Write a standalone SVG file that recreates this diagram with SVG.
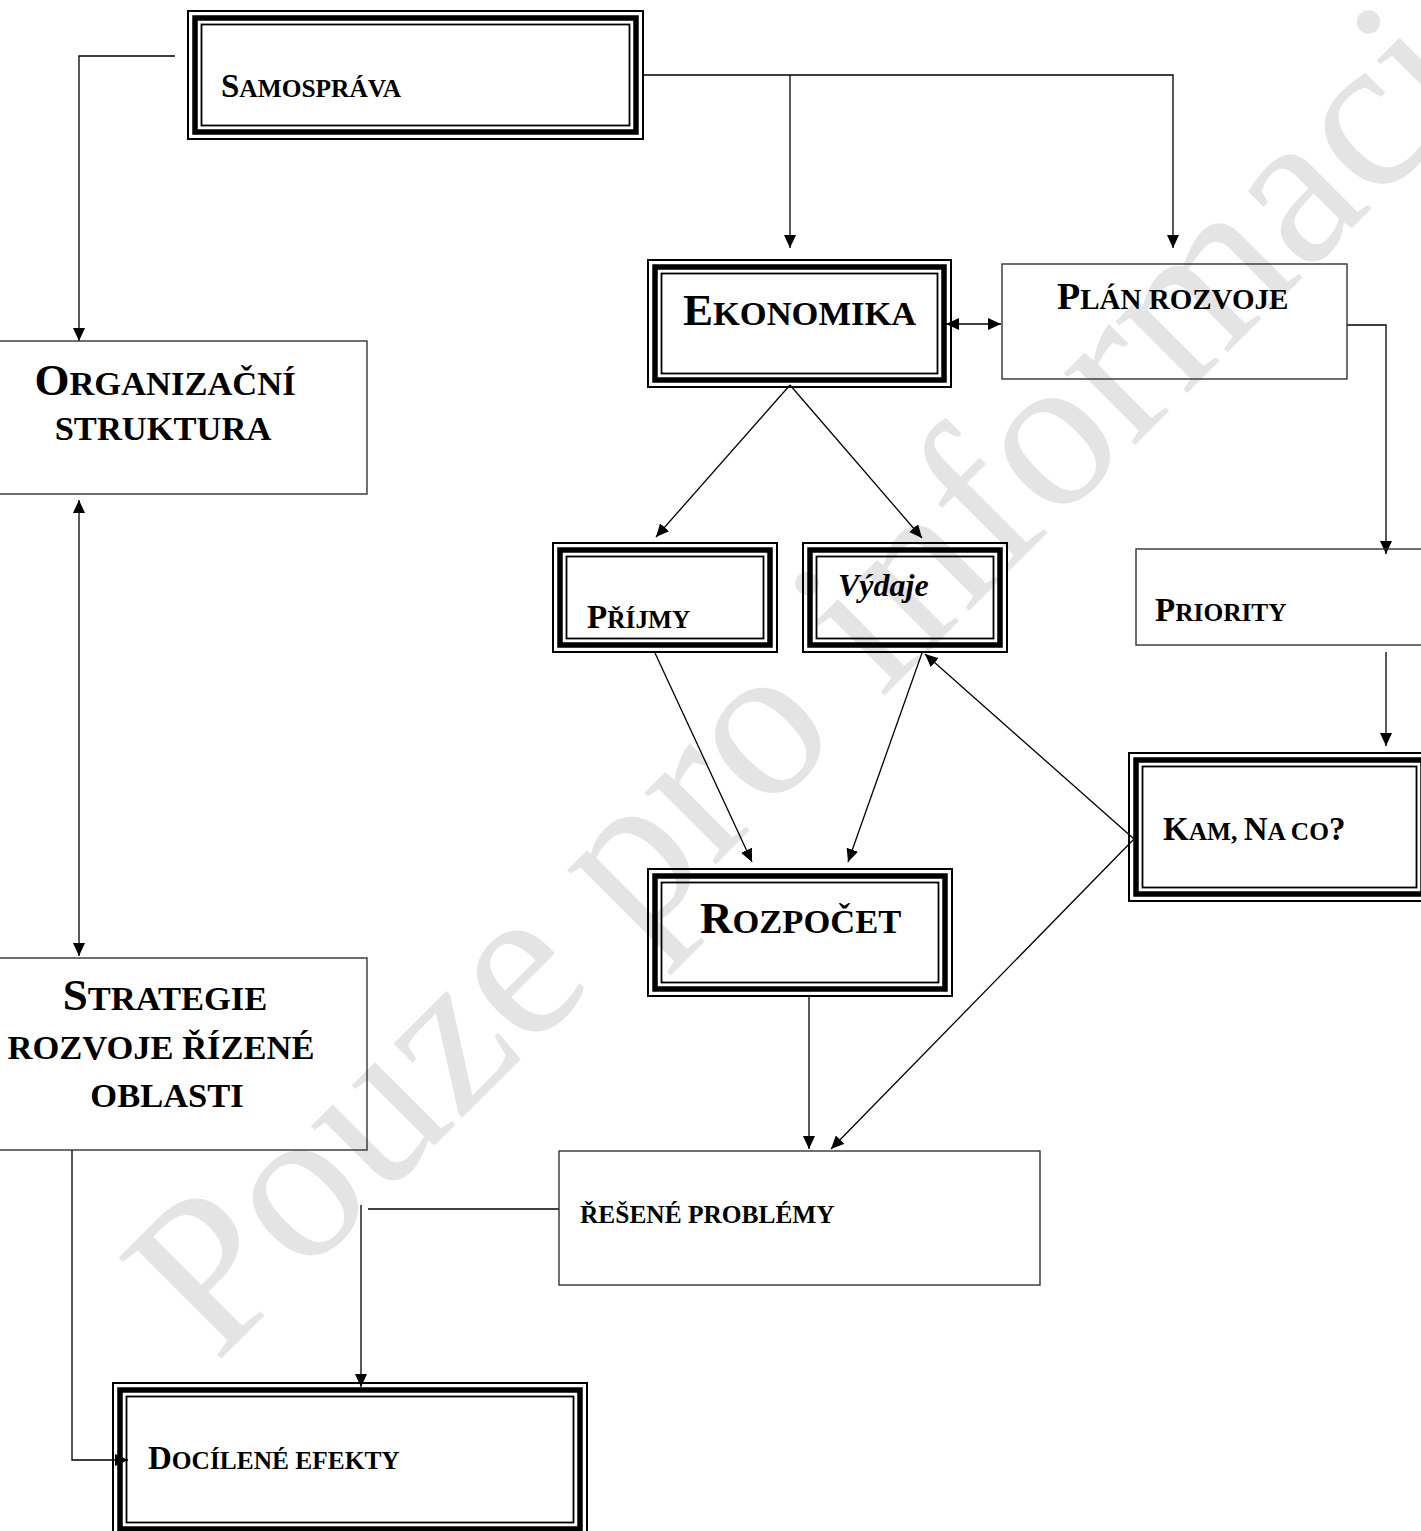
<svg xmlns="http://www.w3.org/2000/svg" width="1421" height="1531" viewBox="0 0 1421 1531">
<style>
text{font-family:"Liberation Serif","Times New Roman",serif;font-weight:bold;fill:#000}
.wm{font-weight:normal;fill:#e4e4e4;font-size:220px}
.thin{fill:none;stroke:#333;stroke-width:1.4}
.o{fill:none;stroke:#000;stroke-width:2}
.t{fill:none;stroke:#000;stroke-width:5.5}
.i{fill:none;stroke:#000;stroke-width:1.8}
.c{fill:none;stroke:#000;stroke-width:1.3}
.F45{font-size:45px}.f45{font-size:34.5px}
.F38{font-size:38px}.f38{font-size:29px}
.F33{font-size:33px}.f33{font-size:25.4px}
</style>
<defs>
<marker id="ah" viewBox="0 0 13 12" refX="13" refY="6" markerWidth="13" markerHeight="12" markerUnits="userSpaceOnUse" orient="auto-start-reverse">
<path d="M0,0 L13,6 L0,12 Z" fill="#000"/>
</marker>
</defs>
<rect width="1421" height="1531" fill="#fff"/>
<text class="wm" transform="translate(216,1364) rotate(-45)">Pouze pro informaci</text>

<g id="connectors">
<path class="c" d="M175,56 H79 V341" marker-end="url(#ah)"/>
<path class="c" d="M644,75 H1173 V248" marker-end="url(#ah)"/>
<path class="c" d="M790,75 V248" marker-end="url(#ah)"/>
<path class="c" d="M946,324 H1001" marker-start="url(#ah)" marker-end="url(#ah)"/>
<path class="c" d="M1347,325 H1386 V554" marker-end="url(#ah)"/>
<path class="c" d="M1386,652 V746" marker-end="url(#ah)"/>
<path class="c" d="M790,385 L656,537" marker-end="url(#ah)"/>
<path class="c" d="M790,385 L922,538" marker-end="url(#ah)"/>
<path class="c" d="M655,653 L752,862" marker-end="url(#ah)"/>
<path class="c" d="M922,653 L848,862" marker-end="url(#ah)"/>
<path class="c" d="M1134,839 L925,654" marker-end="url(#ah)"/>
<path class="c" d="M1134,839 L831,1149" marker-end="url(#ah)"/>
<path class="c" d="M809,997 V1149" marker-end="url(#ah)"/>
<path class="c" d="M559,1209 H368"/>
<path class="c" d="M361,1205 V1387" marker-end="url(#ah)"/>
<path class="c" d="M72,1150 V1460 H128" marker-end="url(#ah)"/>
<path class="c" d="M79,500 V956" marker-start="url(#ah)" marker-end="url(#ah)"/>
</g>

<g id="samosprava">
<rect class="o" x="188" y="11" width="455" height="128"/>
<rect class="t" x="195" y="18" width="441" height="114"/>
<rect class="i" x="201.5" y="24.5" width="428" height="101"/>
<text x="221" y="97"><tspan class="F33">S</tspan><tspan class="f33">AMOSPRÁVA</tspan></text>
</g>

<g id="organizacni">
<rect class="thin" x="-2" y="341" width="369" height="153"/>
<text x="165" y="395" text-anchor="middle"><tspan class="F45">O</tspan><tspan class="f45">RGANIZAČNÍ</tspan></text>
<text x="163" y="440" text-anchor="middle" class="f45">STRUKTURA</text>
</g>

<g id="ekonomika">
<rect class="o" x="648" y="260" width="303" height="127"/>
<rect class="t" x="655" y="267" width="289" height="113"/>
<rect class="i" x="661.5" y="273.5" width="276" height="100"/>
<text x="683" y="325"><tspan class="F45">E</tspan><tspan class="f45">KONOMIKA</tspan></text>
</g>

<g id="plan">
<rect class="thin" x="1002" y="264" width="345" height="115"/>
<text x="1057" y="309"><tspan class="F38">P</tspan><tspan class="f38">LÁN ROZVOJE</tspan></text>
</g>

<g id="prijmy">
<rect class="o" x="553" y="543" width="224" height="109"/>
<rect class="t" x="560" y="550" width="210" height="95"/>
<rect class="i" x="566.5" y="556.5" width="197" height="82"/>
<text x="587" y="628"><tspan class="F33">P</tspan><tspan class="f33">ŘÍJMY</tspan></text>
</g>

<g id="vydaje">
<rect class="o" x="803" y="543" width="204" height="109"/>
<rect class="t" x="810" y="550" width="190" height="95"/>
<rect class="i" x="816.5" y="556.5" width="177" height="82"/>
<text x="838" y="596" font-style="italic" font-size="32">Výdaje</text>
</g>

<g id="priority">
<rect class="thin" x="1136" y="549" width="300" height="96"/>
<text x="1155" y="621"><tspan class="F33">P</tspan><tspan class="f33">RIORITY</tspan></text>
</g>

<g id="kam">
<rect class="o" x="1129" y="753" width="301" height="148"/>
<rect class="t" x="1136" y="760" width="287" height="134"/>
<rect class="i" x="1142.5" y="766.5" width="274" height="121"/>
<text x="1163" y="840"><tspan class="F33">K</tspan><tspan class="f33">AM, </tspan><tspan class="F33">N</tspan><tspan class="f33">A CO</tspan><tspan class="F33">?</tspan></text>
</g>

<g id="rozpocet">
<rect class="o" x="648" y="869" width="304" height="127"/>
<rect class="t" x="655" y="876" width="290" height="113"/>
<rect class="i" x="661.5" y="882.5" width="277" height="100"/>
<text x="700" y="933"><tspan class="F45">R</tspan><tspan class="f45">OZPOČET</tspan></text>
</g>

<g id="strategie">
<rect class="thin" x="-2" y="958" width="369" height="192"/>
<text x="165" y="1010" text-anchor="middle"><tspan class="F45">S</tspan><tspan class="f45">TRATEGIE</tspan></text>
<text x="161" y="1059" text-anchor="middle" class="f45">ROZVOJE ŘÍZENÉ</text>
<text x="167" y="1107" text-anchor="middle" class="f45">OBLASTI</text>
</g>

<g id="reseneproblemy">
<rect class="thin" x="559" y="1151" width="481" height="134"/>
<text x="580" y="1223" class="f33">ŘEŠENÉ PROBLÉMY</text>
</g>

<g id="docilene">
<rect class="o" x="113" y="1383" width="474" height="153"/>
<rect class="t" x="120" y="1390" width="460" height="139"/>
<rect class="i" x="126.5" y="1396.5" width="447" height="126"/>
<text x="148" y="1469"><tspan class="F33">D</tspan><tspan class="f33">OCÍLENÉ EFEKTY</tspan></text>
</g>
</svg>
